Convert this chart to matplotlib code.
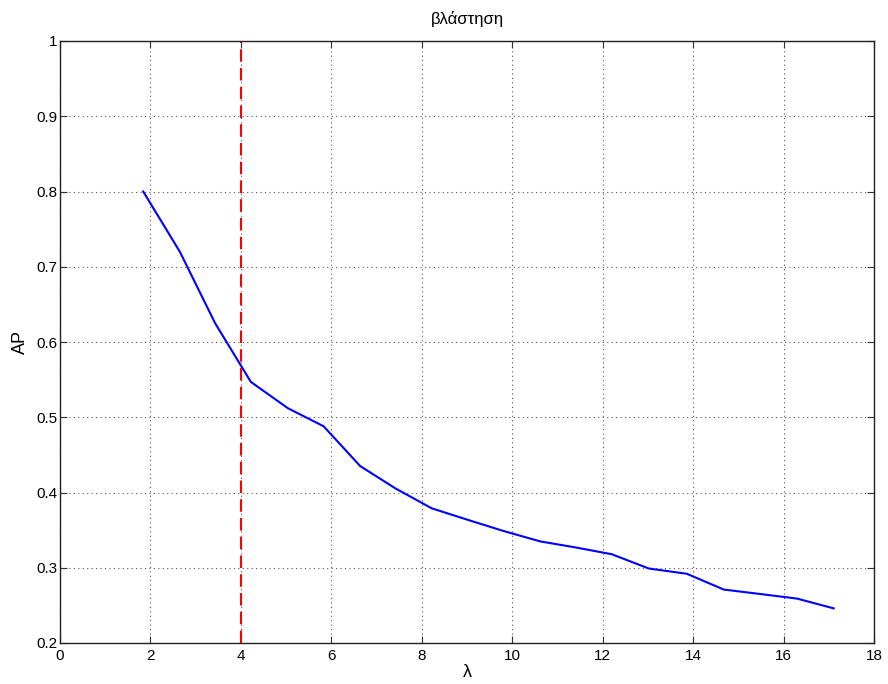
import matplotlib
matplotlib.use("Agg")
import matplotlib.pyplot as plt

# AP as a function of lambda
lam = [1.84, 2.65, 3.43, 4.22, 5.04, 5.83, 6.64, 7.43, 8.22, 9.0,
       9.8, 10.62, 11.4, 12.2, 13.02, 13.86, 14.68, 15.5, 16.3, 17.11]
ap = [0.800, 0.720, 0.625, 0.547, 0.512, 0.488, 0.435, 0.405, 0.379, 0.364,
      0.349, 0.335, 0.327, 0.318, 0.299, 0.292, 0.271, 0.265, 0.259, 0.246]
lam_mark = 4

xticks = list(range(0, 19, 2))
yticks = [0.2, 0.3, 0.4, 0.5, 0.6, 0.7, 0.8, 0.9, 1.0]
ytick_labels = ["0.2", "0.3", "0.4", "0.5", "0.6", "0.7", "0.8", "0.9", "1"]

plt.rcParams["font.family"] = ["Liberation Sans", "DejaVu Sans"]

fig = plt.figure(figsize=(8.88, 6.84), dpi=100)
ax = fig.add_axes([60 / 888, 41 / 684, 814 / 888, 602 / 684])

ax.plot(lam, ap, color="#0000ff", linewidth=1.5)
ax.plot([lam_mark, lam_mark], [0.2, 1.0], color="#ff0000", linestyle=(0, (6, 3)), linewidth=1.5)

ax.set_xlim(0, 18)
ax.set_ylim(0.2, 1.0)
ax.set_xticks(xticks)
ax.set_xticklabels([str(t) for t in xticks])
ax.set_yticks(yticks)
ax.set_yticklabels(ytick_labels)
ax.tick_params(direction="in", length=5, width=0.8, labelsize=11, top=True, right=True,
               color="#333333")
ax.tick_params(axis="x", pad=4)
ax.tick_params(axis="y", pad=2)
ax.grid(True, linestyle=(0, (1, 3)), color="#555555", linewidth=0.8)
for s in ax.spines.values():
    s.set_linewidth(1.0)
    s.set_color("#222222")

ax.set_title("βλάστηση", fontsize=12, pad=12)
ax.set_xlabel("λ", fontsize=13, labelpad=1)
ax.set_ylabel("AP", fontsize=13, labelpad=5)

fig.savefig("out.png", dpi=100)
